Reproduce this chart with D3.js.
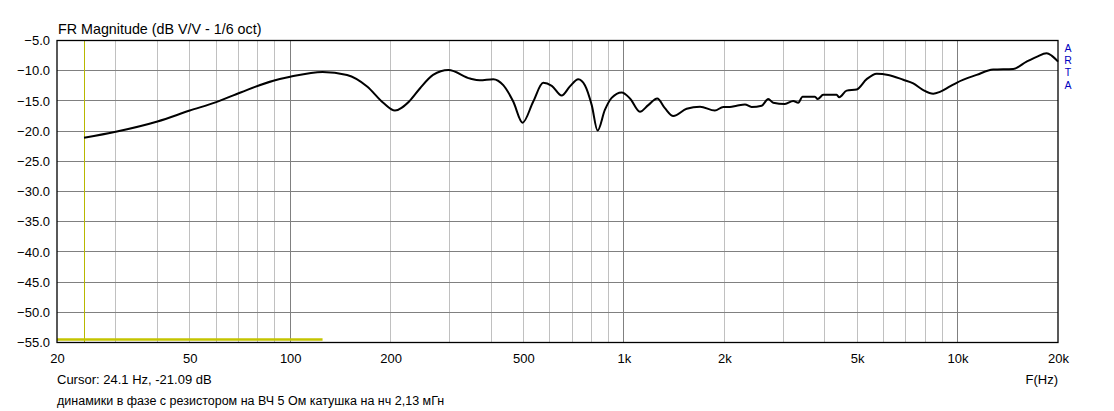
<!DOCTYPE html>
<html><head><meta charset="utf-8">
<script src="https://cdn.jsdelivr.net/npm/d3@7"></script>
<style>body{margin:0;background:#fff;}svg{display:block;font-family:Arial,"Liberation Sans",sans-serif;}</style>
</head><body>
<svg id="c" width="1114" height="411"></svg>
<script>
// ---- data ----
const freqs = [24.1,30,40,50,60,71,89,100,125,148,170,190,206,228,245,268,298,346,370,406,435,466,497,535,573,608,651,689,730,764,801,834,877,919,985,1043,1117,1183,1259,1327,1406,1542,1691,1874,1985,2078,2178,2306,2414,2588,2708,2802,3038,3217,3330,3432,3738,3808,3958,4341,4420,4652,4985,5341,5723,6199,6874,7365,7892,8453,8854,9488,9936,11406,12790,14682,16104,17258,18489,19138,20000];
const magDb = [-21.09,-20.1,-18.4,-16.6,-15.2,-13.6,-11.65,-11.0,-10.2,-10.7,-12.6,-15.3,-16.6,-15.0,-12.9,-10.7,-9.9,-11.3,-11.6,-11.4,-12.4,-15.1,-18.6,-15.1,-12.0,-12.5,-14.1,-12.6,-11.4,-12.4,-15.7,-19.9,-16.5,-14.5,-13.6,-14.6,-16.8,-15.7,-14.6,-16.2,-17.5,-16.3,-15.95,-16.6,-16.0,-16.0,-15.8,-15.6,-16.0,-15.8,-14.7,-15.3,-15.5,-15.0,-15.3,-14.3,-14.3,-14.7,-14.0,-14.0,-14.4,-13.3,-13.1,-11.4,-10.5,-10.7,-11.5,-12.1,-13.2,-13.8,-13.5,-12.6,-12.0,-10.7,-9.8,-9.7,-8.5,-7.7,-7.1,-7.5,-8.5];
const yTicks = [-5,-10,-15,-20,-25,-30,-35,-40,-45,-50,-55];
const xTickVals = [20,50,100,200,500,1000,2000,5000,10000,20000];
const xTickLabels = ["20","50","100","200","500","1k","2k","5k","10k","20k"];
const minorGrid = [30,40,50,60,70,80,90,200,300,400,500,600,700,800,900,2000,3000,4000,5000,6000,7000,8000,9000];
const majorGrid = [100,1000,10000];
const cursorFreq = 24.1;
const rangeBar = [20,125];   // yellow band at bottom
const rangeBarDb = -54.5;
const title = "FR Magnitude (dB V/V - 1/6 oct)";
const cursorText = "Cursor: 24.1 Hz, -21.09 dB";
const noteText = "динамики в фазе с резистором на ВЧ 5 Ом катушка на нч 2,13 мГн";
const brand = ["A","R","T","A"];

// ---- chart ----
const svg = d3.select("#c");
const L=57, R=1058, T=40.5, B=342.5;
const x = d3.scaleLog().domain([20,20000]).range([L,R]);
const y = d3.scaleLinear().domain([-55,-5]).range([B,T]);

const g = svg.append("g");
g.selectAll(".mg").data(minorGrid).enter().append("line")
  .attr("x1",d=>x(d)).attr("x2",d=>x(d)).attr("y1",T).attr("y2",B)
  .attr("stroke","#c0c0c0").attr("stroke-width",1).attr("shape-rendering","crispEdges");
g.selectAll(".hg").data(yTicks).enter().append("line")
  .attr("x1",L).attr("x2",R).attr("y1",d=>y(d)).attr("y2",d=>y(d))
  .attr("stroke","#808080").attr("stroke-width",1).attr("shape-rendering","crispEdges");
g.selectAll(".Mg").data(majorGrid).enter().append("line")
  .attr("x1",d=>x(d)).attr("x2",d=>x(d)).attr("y1",T).attr("y2",B)
  .attr("stroke","#808080").attr("stroke-width",1).attr("shape-rendering","crispEdges");

// cursor
g.append("line").attr("x1",x(cursorFreq)).attr("x2",x(cursorFreq)).attr("y1",T).attr("y2",B)
  .attr("stroke","#b8b800").attr("stroke-width",1).attr("shape-rendering","crispEdges");
// range bar
g.append("line").attr("x1",x(rangeBar[0])).attr("x2",x(rangeBar[1])).attr("y1",y(rangeBarDb)).attr("y2",y(rangeBarDb))
  .attr("stroke","#c4c400").attr("stroke-width",2.5);

// frame
g.append("rect").attr("x",L).attr("y",T).attr("width",R-L).attr("height",B-T)
  .attr("fill","none").attr("stroke","#000").attr("stroke-width",1.3);

// curve
const pts = freqs.map((f,i)=>[f,magDb[i]]);
g.append("path").datum(pts)
  .attr("d", d3.line().x(d=>x(d[0])).y(d=>y(d[1])).curve(d3.curveMonotoneX))
  .attr("fill","none").attr("stroke","#000").attr("stroke-width",2).attr("stroke-linejoin","round");

// axes labels
const yAxis = d3.axisLeft(y).tickValues(yTicks).tickFormat(d3.format(".1f")).tickSize(0).tickPadding(7);
const ya = svg.append("g").attr("transform",`translate(${L},0)`).call(yAxis);
ya.select(".domain").remove();
ya.selectAll("text").attr("font-size",13).attr("fill","#000").attr("font-family","Arial, 'Liberation Sans', sans-serif");

const xAxis = d3.axisBottom(x).tickValues(xTickVals).tickFormat((d,i)=>xTickLabels[i]).tickSize(0).tickPadding(11);
const xa = svg.append("g").attr("transform",`translate(0,${B})`).call(xAxis);
xa.select(".domain").remove();
xa.selectAll("text").attr("font-size",13).attr("fill","#000").attr("font-family","Arial, 'Liberation Sans', sans-serif");

svg.append("text").attr("x",L+1).attr("y",34).attr("font-size",14.3).text(title);
svg.append("text").attr("x",R).attr("y",384).attr("text-anchor","end").attr("font-size",13).text("F(Hz)");
svg.append("text").attr("x",L).attr("y",384).attr("font-size",13).text(cursorText);
svg.append("text").attr("x",L).attr("y",405).attr("font-size",12.5).text(noteText);
svg.selectAll(".brand").data(brand).enter().append("text")
  .attr("x",1068).attr("y",(d,i)=>52+i*12.2).attr("text-anchor","middle")
  .attr("font-size",10.5).attr("fill","#0000c0").text(d=>d);
</script>
</body></html>
